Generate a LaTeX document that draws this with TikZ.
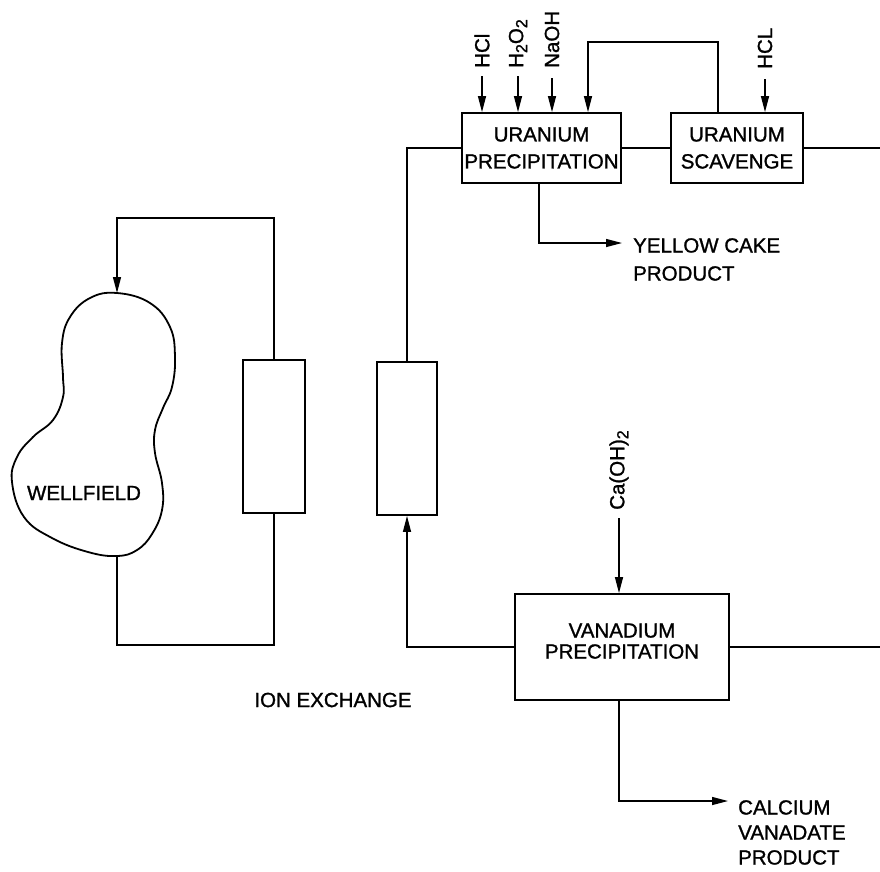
\documentclass[tikz,border=0pt]{standalone}
\usepackage{fontspec}
\setmainfont[FakeBold=1.2]{Liberation Sans}
\usetikzlibrary{arrows.meta,calc}
\newcommand{\subtwo}{\raisebox{-4pt}{\fontsize{16}{16}\selectfont 2}}
\tikzset{
    unit box/.style={draw,line width=1.8pt,align=center,inner sep=0pt,
        font=\fontsize{20.5}{27}\selectfont},
    column box/.style={draw,line width=1.8pt,minimum height=153pt,inner sep=0pt},
    well line/.style={line width=1.8pt},
    flow line/.style={line width=1.3pt},
    flow arrow/.style={flow line,-{Triangle[length=16pt,width=8pt]}},
    feed label/.style={rotate=90,anchor=west,inner sep=0pt,
        font=\fontsize{20.5}{22}\selectfont},
    product label/.style={anchor=north west,align=left,inner sep=0pt,
        font=\fontsize{20.5}{28}\selectfont},
    plain label/.style={inner sep=0pt,font=\fontsize{20.5}{22}\selectfont}
}

\begin{document}
\begin{tikzpicture}[x=1pt,y=-1pt]
    \useasboundingbox(0,0)rectangle(880,871);
    % wellfield
    \draw[well line]plot[smooth cycle,tension=.7]coordinates{
        (117,293)(150,303)(170,327)(175,357)(172,387)(163,408)(155,430)
        (155,453)(162,483)(162,510)(152,534)(137,550)(117,556)(88,552)
        (52,538)(24,517)(12,482)(17,457)(33,437)(53,420)(63,397)(63,377)
        (62,343)(70,317)(90,298)};
    \coordinate(wellTop)at(117,293);
    \coordinate(wellBot)at(117,556);
    \node[plain label](well)at(84,493){WELLFIELD};
    % ion exchange columns
    \node[column box,minimum width=62pt](colA)at(274,436.5){};
    \node[column box,minimum width=60pt](colB)at(407,438.5){};
    \node[plain label](ionx)at(333,700){ION EXCHANGE};
    % process units
    \node[unit box,minimum width=159pt,minimum height=70pt](uprec)at(541.5,148)
        {URANIUM\\PRECIPITATION};
    \node[unit box,minimum width=132pt,minimum height=70pt](uscav)at(737,148)
        {URANIUM\\SCAVENGE};
    \node[unit box,minimum width=214pt,minimum height=106pt,
        font=\fontsize{20.5}{21}\selectfont](vprec)at(622,647)
        {VANADIUM\\PRECIPITATION\\[-9pt]\mbox{}};
    % reagents
    \node[feed label](hcl)at(482,68){HCl};
    \node[feed label](hperox)at(518,68){H\subtwo O\subtwo};
    \node[feed label](naoh)at(552,68){NaOH};
    \node[feed label](hclB)at(765,69){HCL};
    \node[feed label](lime)at(619,510){Ca(OH)\subtwo};
    % products
    \coordinate(yellowTip)at(622,243);
    \node[product label](yellow)at(633,238){YELLOW CAKE\\PRODUCT};
    \coordinate(calcTip)at(728,801);
    \node[product label,font=\fontsize{20.5}{25}\selectfont](calc)at(738,800)
        {CALCIUM\\VANADATE\\PRODUCT};
    % helper points
    \coordinate(loopTop)at(117,218);
    \coordinate(loopLow)at(117,645);
    \coordinate(recTop)at(588,42);
    \coordinate(uOut)at(880,148);
    \coordinate(vOut)at(880,647);
    % connectors
    \draw[flow arrow](colA.north)|-(loopTop)--(wellTop);
    \draw[flow line](wellBot)--(loopLow)-|(colA.south);
    \draw[flow line](colB.north)|-(uprec.west);
    \draw[flow line](uprec.east)--(uscav.west);
    \draw[flow line](uscav.east)--(uOut);
    \draw[flow arrow]([xshift=-19pt]uscav.north)|-(recTop)--(recTop|-uprec.north);
    \draw[flow arrow]([yshift=-8pt]hcl.west)--(hcl.west|-uprec.north);
    \draw[flow arrow]([yshift=-8pt]hperox.west)--(hperox.west|-uprec.north);
    \draw[flow arrow]([yshift=-10pt]naoh.west)--(naoh.west|-uprec.north);
    \draw[flow arrow]([yshift=-10pt]hclB.west)--(hclB.west|-uscav.north);
    \draw[flow arrow]([xshift=-2.5pt]uprec.south)|-(yellowTip);
    \draw[flow arrow]([yshift=-8pt]lime.west)--(lime.west|-vprec.north);
    \draw[flow arrow](vprec.west)-|(colB.south);
    \draw[flow line](vprec.east)--(vOut);
    \draw[flow arrow]([xshift=-3pt]vprec.south)|-(calcTip);
\end{tikzpicture}
\end{document}
